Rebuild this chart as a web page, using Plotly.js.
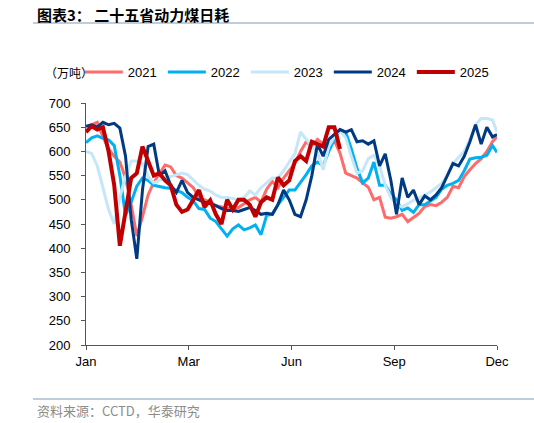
<!DOCTYPE html>
<html>
<head>
<meta charset="utf-8">
<script src="https://cdn.plot.ly/plotly-3.0.1.min.js"></script>
<style>
  body { margin: 0; background: #fff; }
  #chart { width: 534px; height: 423px; }
</style>
</head>
<body>
<div id="chart"></div>
<script>
// day of year, read every 5 days off the picture
var days = [0,5,10,15,20,25,30,35,40,45,50,55,60,65,70,75,80,85,90,95,
            100,105,110,115,120,125,130,135,140,145,150,155,160,165,170,175,180,185,190,195,
            200,205,210,215,220,225,230,235,240,245,250,255,260,265,270,275,280,285,290,295,
            300,305,310,315,320,325,330,335,340,345,350,355,360,364];

var tickDays = [0, 91, 182, 273, 364];
var tickText = ["Jan", "Mar", "Jun", "Sep", "Dec"];

var years = ["2021", "2022", "2023", "2024", "2025"];

var y2021 = [640,655,660,630,605,590,578,545,490,425,
             465,510,536,555,572,568,550,545,534,525,
             505,500,495,488,485,482,480,484,492,500,
             505,495,522,538,525,545,560,575,600,620,
             610,625,615,612,622,596,555,550,545,535,
             526,500,505,464,462,465,470,455,463,472,
             486,490,488,495,505,528,525,548,562,575,
             585,600,620,630];

var y2022 = [618,628,632,627,624,612,550,468,495,528,
             545,540,530,527,525,524,520,515,505,498,
             482,480,462,455,440,425,440,448,438,442,
             448,428,468,470,490,505,520,520,535,552,
             570,578,570,600,625,645,640,605,565,535,
             545,578,530,530,512,500,478,483,474,490,
             490,497,505,522,530,534,540,560,584,587,
             588,592,612,598];

var y2023 = [600,596,570,526,480,450,505,548,580,580,
             575,548,535,540,545,548,552,555,552,540,
             530,522,518,510,505,505,502,500,505,518,
             510,525,535,545,545,560,578,595,640,625,
             610,598,562,610,630,643,628,590,555,560,
             585,592,570,530,505,490,485,492,499,503,
             510,516,525,534,550,575,588,600,625,655,
             668,668,665,640];

var y2024 = [652,655,650,660,655,658,648,590,460,378,
             520,610,615,550,560,530,515,540,515,505,
             500,495,492,488,482,478,478,476,480,484,
             478,470,472,470,490,520,500,470,465,500,
             550,615,590,625,635,645,640,645,620,622,
             615,622,570,595,540,470,545,505,520,490,
             508,500,510,525,550,575,570,590,620,655,
             615,650,630,635];

var y2025 = [640,652,645,650,600,530,405,470,545,555,
             610,580,550,555,540,530,490,475,480,500,
             520,485,499,470,450,500,480,500,500,490,
             465,495,505,500,546,530,540,580,590,580,
             620,615,610,650,650,605];

var series = [y2021, y2022, y2023, y2024, y2025];
var colors = ["#FF6B6B", "#00B0F0", "#C5E7F7", "#003A80", "#C00000"];
var widths = [3, 3, 3, 3, 4];

var data = series.map(function (vals, i) {
    return {
        x: days.slice(0, vals.length),
        y: vals,
        name: years[i],
        mode: 'lines',
        type: 'scatter',
        line: { color: colors[i], width: widths[i] },
        hoverinfo: 'skip'
    };
});

var cjk = '"Noto Sans CJK SC", sans-serif';

var layout = {
    width: 534,
    height: 423,
    margin: { l: 86, r: 37, t: 103, b: 78 },
    paper_bgcolor: '#fff',
    plot_bgcolor: '#fff',
    font: { family: '"Liberation Sans", Arial, sans-serif', size: 13, color: '#000' },
    showlegend: true,
    legend: {
        orientation: 'h',
        x: -0.015, xanchor: 'left',
        y: 1.128, yanchor: 'middle',
        font: { size: 13 },
        itemwidth: 38,
        entrywidth: 30,
        traceorder: 'normal',
        bgcolor: 'rgba(0,0,0,0)'
    },
    xaxis: {
        range: [0, 364],
        tickmode: 'array',
        tickvals: tickDays,
        ticktext: tickText,
        showline: true, linecolor: '#555', linewidth: 1,
        ticks: 'outside', ticklen: 4, tickcolor: '#555',
        showgrid: false, zeroline: false,
        tickfont: { size: 13 }
    },
    yaxis: {
        range: [200, 700],
        tick0: 200, dtick: 50,
        showline: true, linecolor: '#555', linewidth: 1,
        ticks: 'outside', ticklen: 4, tickcolor: '#555',
        ticklabelstandoff: 8,
        showgrid: false, zeroline: false,
        tickfont: { size: 13 }
    },
    shapes: [
        { type: 'line', xref: 'paper', yref: 'paper', x0: -0.129, x1: 1.09, y0: 1.331, y1: 1.331,
          line: { color: '#A9BCD0', width: 1.5 } },
        { type: 'line', xref: 'paper', yref: 'paper', x0: -0.129, x1: 1.09, y0: -0.223, y1: -0.223,
          line: { color: '#A9BCD0', width: 1.5 } }
    ],
    annotations: [
        { text: '<b>图表3： 二十五省动力煤日耗</b>', xref: 'paper', yref: 'paper',
          x: -0.124, xanchor: 'left', y: 1.364, yanchor: 'middle', showarrow: false,
          font: { family: cjk, size: 15, color: '#000' } },
        { text: '（万吨）', xref: 'paper', yref: 'paper',
          x: -0.105, xanchor: 'left', y: 1.128, yanchor: 'middle', showarrow: false,
          font: { family: cjk, size: 12, color: '#000' } },
        { text: '资料来源：CCTD，华泰研究', xref: 'paper', yref: 'paper',
          x: -0.124, xanchor: 'left', y: -0.269, yanchor: 'middle', showarrow: false,
          font: { family: cjk, size: 13, color: '#8C8C8C' } }
    ]
};

Plotly.newPlot('chart', data, layout, { displayModeBar: false, staticPlot: true });
</script>
</body>
</html>
